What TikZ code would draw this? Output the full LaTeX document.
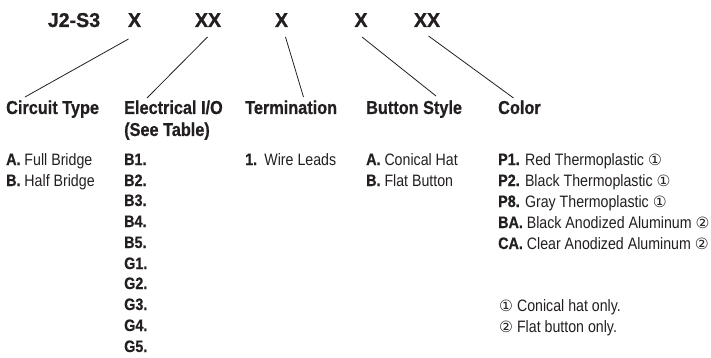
\documentclass[tikz,border=0pt]{standalone}
\usepackage{fontspec}
\setmainfont{Liberation Sans}[FakeStretch=0.86,BoldFeatures={FakeStretch=0.87,FakeBold=0.6}]
\newfontfamily\codefont{Liberation Sans Bold}[FakeStretch=0.98,FakeBold=1.0]
\newfontfamily\symfont{DejaVu Sans}
\newcommand{\circa}{{\symfont\fontsize{15.5}{15.5}\selectfont ①}}
\newcommand{\circb}{{\symfont\fontsize{15.5}{15.5}\selectfont ②}}
\definecolor{ink}{HTML}{231F20}
\tikzset{
  code/.style={inner sep=0pt,anchor=base,text=ink,font=\fontsize{20}{20}\selectfont\codefont},
  head/.style={inner sep=0pt,anchor=base west,text=ink,font=\fontsize{18.7}{18.7}\selectfont\bfseries},
  item/.style={inner sep=0pt,anchor=base west,text=ink,font=\fontsize{16.5}{16.5}\selectfont},
  leader/.style={draw=ink,line width=0.8pt}
}
\begin{document}
\begin{tikzpicture}[x=1pt,y=-1pt]
\useasboundingbox (0,0) rectangle (711,358);
\node[code] (pre) at (74,27) {J2-S3};
\node[code] (x1) at (134.5,27) {X};
\node[code] (x2) at (208,27) {XX};
\node[code] (x3) at (281.5,27) {X};
\node[code] (x4) at (361,27) {X};
\node[code] (x5) at (427,27) {XX};
\node[head] (h1) at (6,114) {Circuit Type};
\node[head] (h2) at (124,114) {Electrical I/O};
\node[head] (h2b) at (124,136) {(See Table)};
\node[head] (h3) at (245,114) {Termination};
\node[head] (h4) at (366,114) {Button Style};
\node[head] (h5) at (498,114) {Color};
\draw[leader] ([shift={(-6,12)}]x1.base) -- ([shift={(19,-17)}]h1.base west);
\draw[leader] ([shift={(-0.5,10)}]x2.base) -- ([shift={(23,-16)}]h2.base west);
\draw[leader] ([shift={(4,10)}]x3.base) -- ([shift={(58.5,-17)}]h3.base west);
\draw[leader] ([shift={(1,10)}]x4.base) -- ([shift={(70,-18)}]h4.base west);
\draw[leader] ([shift={(1.5,9)}]x5.base) -- ([shift={(15.5,-16)}]h5.base west);
\node[item] (a1) at (6,165) {\textbf{A.} Full Bridge};
\node[item] (a2) at (6,186) {\textbf{B.} Half Bridge};
\node[item] (b1) at (124,165) {\textbf{B1.}};
\node[item] (b2) at (124,186) {\textbf{B2.}};
\node[item] (b3) at (124,206) {\textbf{B3.}};
\node[item] (b4) at (124,227) {\textbf{B4.}};
\node[item] (b5) at (124,248) {\textbf{B5.}};
\node[item] (g1) at (124,269) {\textbf{G1.}};
\node[item] (g2) at (124,289) {\textbf{G2.}};
\node[item] (g3) at (124,310) {\textbf{G3.}};
\node[item] (g4) at (124,331) {\textbf{G4.}};
\node[item] (g5) at (124,352) {\textbf{G5.}};
\node[item] (t1) at (245,165) {\textbf{1.}\hspace{2pt} Wire Leads};
\node[item] (s1) at (366,165) {\textbf{A.} Conical Hat};
\node[item] (s2) at (366,186) {\textbf{B.} Flat Button};
\node[item] (c1) at (498,165) {\textbf{P1.} Red Thermoplastic \circa};
\node[item] (c2) at (498,186) {\textbf{P2.} Black Thermoplastic \circa};
\node[item] (c3) at (498,207) {\textbf{P8.} Gray Thermoplastic \circa};
\node[item] (c4) at (498,228) {\textbf{BA.} Black Anodized Aluminum \circb};
\node[item] (c5) at (498,249) {\textbf{CA.} Clear Anodized Aluminum \circb};
\node[item] (n1) at (499,311) {\circa\ Conical hat only.};
\node[item] (n2) at (499,332) {\circb\ Flat button only.};
\end{tikzpicture}
\end{document}
